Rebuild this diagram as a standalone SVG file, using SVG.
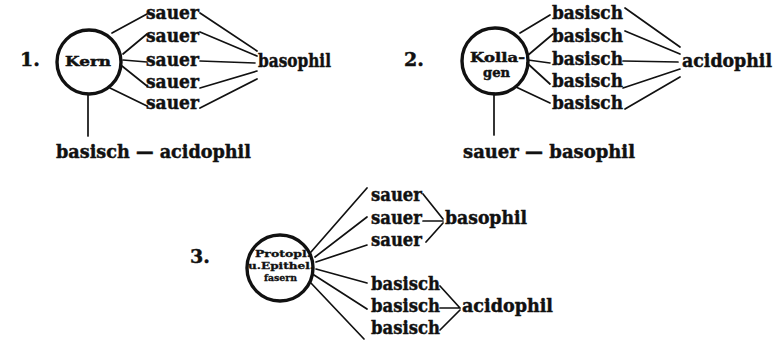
<svg xmlns="http://www.w3.org/2000/svg" width="777" height="340" viewBox="0 0 777 340">
  <style>
    text { font-family: "DejaVu Serif", "Liberation Serif", serif; font-weight: bold; fill: #111; stroke: #111; stroke-width: 0.45; }
    .lbl { font-size: 18px; }
    .num { font-size: 19px; }
    .core { font-size: 13px; }
    .tiny { font-size: 9px; stroke-width: 0.3; }
    .cell { fill: none; stroke: #111; stroke-width: 3.4; }
    .link { fill: none; stroke: #111; stroke-width: 1.7; stroke-linecap: round; }
  </style>
  <rect width="777" height="340" fill="#fff"/>

  <!-- connectors -->
  <g id="connectors">
    <!-- 1: Kern -->
    <path class="link" d="M112 33 L147 14 M123 54 L147 34 M123 60 L147 62 M122 66 L147 86 M110 88 L147 106"/>
    <path class="link" d="M200 13 L257 51 M200 32 L257 56 M200 61 L255 63 M200 88 L257 71 M200 108 L257 79"/>
    <path class="link" d="M88 94 L88 136"/>
    <!-- 2: Kollagen -->
    <path class="link" d="M520 33 L550 15 M527 56 L553 34 M528 60 L550 63 M527 63 L550 84 M516 87 L550 103"/>
    <path class="link" d="M625 8 L680 47 M625 31 L680 54 M623 61 L678 62 M623 88 L680 69 M625 109 L680 77"/>
    <path class="link" d="M494 93 L494 135"/>
    <!-- 3: Protopl. u. Epithelfasern -->
    <path class="link" d="M311 252 L367 188 M315 257 L367 217 M316 262 L367 245 M316 269 L367 283 M314 275 L367 309 M310 282 L364 339"/>
    <path class="link" d="M423 194 L443 219 M423 221 L443 221 M426 242 L443 223"/>
    <path class="link" d="M440 286 L460 308 M440 308 L460 308 M440 330 L460 310"/>
  </g>

  <!-- 1 -->
  <g id="node-1">
    <text class="num" x="20" y="66">1.</text>
    <circle class="cell" cx="89" cy="62" r="32"/>
    <text class="core" x="65" y="66" textLength="46" lengthAdjust="spacingAndGlyphs">Kern</text>
  </g>
  <g id="sauer-1">
    <text class="lbl" x="146" y="19" textLength="53" lengthAdjust="spacingAndGlyphs">sauer</text>
    <text class="lbl" x="146" y="42" textLength="53" lengthAdjust="spacingAndGlyphs">sauer</text>
    <text class="lbl" x="146" y="66" textLength="53" lengthAdjust="spacingAndGlyphs">sauer</text>
    <text class="lbl" x="146" y="88" textLength="53" lengthAdjust="spacingAndGlyphs">sauer</text>
    <text class="lbl" x="146" y="109" textLength="53" lengthAdjust="spacingAndGlyphs">sauer</text>
  </g>
  <g id="basophil-1">
    <text class="lbl" x="258" y="67" textLength="73" lengthAdjust="spacingAndGlyphs">basophil</text>
  </g>
  <g id="acid-1">
    <text class="lbl" x="56" y="158" textLength="195" lengthAdjust="spacingAndGlyphs">basisch — acidophil</text>
  </g>

  <!-- 2 -->
  <g id="node-2">
    <text class="num" x="404" y="66">2.</text>
    <circle class="cell" cx="495" cy="61" r="33"/>
    <text class="core" x="470" y="62" textLength="55" lengthAdjust="spacingAndGlyphs">Kolla-</text>
    <text class="core" x="483" y="77" textLength="27" lengthAdjust="spacingAndGlyphs">gen</text>
  </g>
  <g id="basisch-2">
    <text class="lbl" x="552" y="19" textLength="71" lengthAdjust="spacingAndGlyphs">basisch</text>
    <text class="lbl" x="552" y="42" textLength="71" lengthAdjust="spacingAndGlyphs">basisch</text>
    <text class="lbl" x="552" y="65" textLength="71" lengthAdjust="spacingAndGlyphs">basisch</text>
    <text class="lbl" x="552" y="87" textLength="71" lengthAdjust="spacingAndGlyphs">basisch</text>
    <text class="lbl" x="552" y="109" textLength="71" lengthAdjust="spacingAndGlyphs">basisch</text>
  </g>
  <g id="acidophil-2">
    <text class="lbl" x="682" y="67" textLength="90" lengthAdjust="spacingAndGlyphs">acidophil</text>
  </g>
  <g id="baso-2">
    <text class="lbl" x="463" y="158" textLength="172" lengthAdjust="spacingAndGlyphs">sauer — basophil</text>
  </g>

  <!-- 3 -->
  <g id="node-3">
    <text class="num" x="190" y="263">3.</text>
    <circle class="cell" cx="280" cy="268" r="33"/>
    <text class="tiny" x="255" y="257" textLength="56" lengthAdjust="spacingAndGlyphs">Protopl.</text>
    <text class="tiny" x="248" y="269" textLength="66" lengthAdjust="spacingAndGlyphs">u.Epithel.</text>
    <text class="tiny" x="264" y="281" textLength="33" lengthAdjust="spacingAndGlyphs">fasern</text>
  </g>
  <g id="sauer-3">
    <text class="lbl" x="371" y="201" textLength="51" lengthAdjust="spacingAndGlyphs">sauer</text>
    <text class="lbl" x="371" y="224" textLength="51" lengthAdjust="spacingAndGlyphs">sauer</text>
    <text class="lbl" x="371" y="246" textLength="51" lengthAdjust="spacingAndGlyphs">sauer</text>
  </g>
  <g id="basophil-3">
    <text class="lbl" x="445" y="224" textLength="82" lengthAdjust="spacingAndGlyphs">basophil</text>
  </g>
  <g id="basisch-3">
    <text class="lbl" x="371" y="290" textLength="69" lengthAdjust="spacingAndGlyphs">basisch</text>
    <text class="lbl" x="371" y="312" textLength="69" lengthAdjust="spacingAndGlyphs">basisch</text>
    <text class="lbl" x="371" y="334" textLength="69" lengthAdjust="spacingAndGlyphs">basisch</text>
  </g>
  <g id="acidophil-3">
    <text class="lbl" x="462" y="312" textLength="91" lengthAdjust="spacingAndGlyphs">acidophil</text>
  </g>
</svg>
